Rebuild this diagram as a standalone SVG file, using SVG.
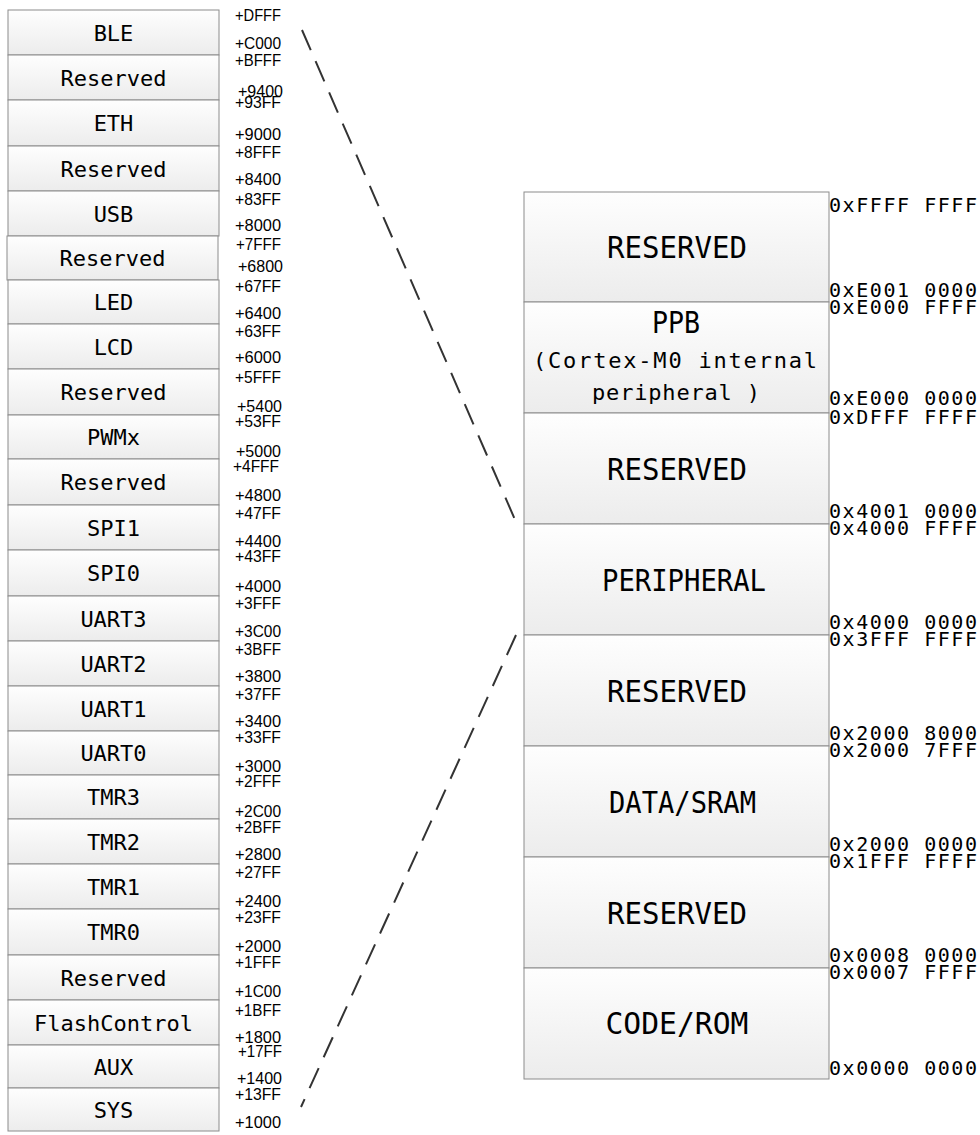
<svg xmlns="http://www.w3.org/2000/svg" width="980" height="1135" viewBox="0 0 980 1135">
<defs>
<linearGradient id="g" x1="0" y1="0" x2="0" y2="1">
<stop offset="0" stop-color="#fefefe"/>
<stop offset="1" stop-color="#ececec"/>
</linearGradient>
<style>
.bx{fill:url(#g);stroke:#8c8c8c;stroke-width:1}
.ll{font-family:"DejaVu Sans Mono",monospace;font-size:22px;fill:#000;text-anchor:middle}
.la{font-family:"Liberation Sans",Arial,sans-serif;font-size:16px;fill:#000}
.rl{font-family:"DejaVu Sans Mono",monospace;font-size:30px;fill:#000;text-anchor:middle}
.rs{font-family:"DejaVu Sans Mono",monospace;font-size:22px;fill:#000;text-anchor:middle}
.ra{font-family:"DejaVu Sans Mono",monospace;font-size:20px;fill:#000}
.dl{fill:none;stroke:#333;stroke-width:2;stroke-dasharray:22 12}
</style>
</defs>
<rect width="980" height="1135" fill="#fff"/>
<g id="left-map">
<g id="n-ble"><rect class="bx" x="8" y="10" width="211" height="45"/><text class="ll" x="113.5" y="40.5">BLE</text></g>
<g id="n-res1"><rect class="bx" x="8" y="55" width="211" height="45"/><text class="ll" x="113.5" y="85.5">Reserved</text></g>
<g id="n-eth"><rect class="bx" x="8" y="100" width="211" height="46"/><text class="ll" x="113.5" y="131">ETH</text></g>
<g id="n-res2"><rect class="bx" x="8" y="146" width="211" height="45"/><text class="ll" x="113.5" y="176.5">Reserved</text></g>
<g id="n-usb"><rect class="bx" x="8" y="191" width="211" height="45"/><text class="ll" x="113.5" y="221.5">USB</text></g>
<g id="n-res3"><rect class="bx" x="7" y="236" width="211" height="44"/><text class="ll" x="112.5" y="266">Reserved</text></g>
<g id="n-led"><rect class="bx" x="8" y="280" width="211" height="44"/><text class="ll" x="113.5" y="310">LED</text></g>
<g id="n-lcd"><rect class="bx" x="8" y="324" width="211" height="45"/><text class="ll" x="113.5" y="354.5">LCD</text></g>
<g id="n-res4"><rect class="bx" x="8" y="369" width="211" height="46"/><text class="ll" x="113.5" y="400">Reserved</text></g>
<g id="n-pwm"><rect class="bx" x="8" y="415" width="211" height="44"/><text class="ll" x="113.5" y="445">PWMx</text></g>
<g id="n-res5"><rect class="bx" x="8" y="459" width="211" height="46"/><text class="ll" x="113.5" y="490">Reserved</text></g>
<g id="n-spi1"><rect class="bx" x="8" y="505" width="211" height="45"/><text class="ll" x="113.5" y="535.5">SPI1</text></g>
<g id="n-spi0"><rect class="bx" x="8" y="550" width="211" height="46"/><text class="ll" x="113.5" y="581">SPI0</text></g>
<g id="n-uart3"><rect class="bx" x="8" y="596" width="211" height="45"/><text class="ll" x="113.5" y="626.5">UART3</text></g>
<g id="n-uart2"><rect class="bx" x="8" y="641" width="211" height="45"/><text class="ll" x="113.5" y="671.5">UART2</text></g>
<g id="n-uart1"><rect class="bx" x="8" y="686" width="211" height="45"/><text class="ll" x="113.5" y="716.5">UART1</text></g>
<g id="n-uart0"><rect class="bx" x="8" y="731" width="211" height="44"/><text class="ll" x="113.5" y="761">UART0</text></g>
<g id="n-tmr3"><rect class="bx" x="8" y="775" width="211" height="44"/><text class="ll" x="113.5" y="805">TMR3</text></g>
<g id="n-tmr2"><rect class="bx" x="8" y="819" width="211" height="45"/><text class="ll" x="113.5" y="849.5">TMR2</text></g>
<g id="n-tmr1"><rect class="bx" x="8" y="864" width="211" height="45"/><text class="ll" x="113.5" y="894.5">TMR1</text></g>
<g id="n-tmr0"><rect class="bx" x="8" y="909" width="211" height="46"/><text class="ll" x="113.5" y="940">TMR0</text></g>
<g id="n-res6"><rect class="bx" x="8" y="955" width="211" height="45"/><text class="ll" x="113.5" y="985.5">Reserved</text></g>
<g id="n-flash"><rect class="bx" x="8" y="1000" width="211" height="45"/><text class="ll" x="113.5" y="1030.5">FlashControl</text></g>
<g id="n-aux"><rect class="bx" x="8" y="1045" width="211" height="43"/><text class="ll" x="113.5" y="1074.5">AUX</text></g>
<g id="n-sys"><rect class="bx" x="8" y="1088" width="211" height="43"/><text class="ll" x="113.5" y="1117.5">SYS</text></g>
</g>
<g id="left-addr">
<text class="la" x="235" y="21" textLength="46" lengthAdjust="spacingAndGlyphs">+DFFF</text>
<text class="la" x="235" y="49" textLength="46" lengthAdjust="spacingAndGlyphs">+C000</text>
<text class="la" x="235" y="66" textLength="46" lengthAdjust="spacingAndGlyphs">+BFFF</text>
<text class="la" x="238" y="97" textLength="45" lengthAdjust="spacingAndGlyphs">+9400</text>
<text class="la" x="235" y="108" textLength="46" lengthAdjust="spacingAndGlyphs">+93FF</text>
<text class="la" x="235" y="140" textLength="46" lengthAdjust="spacingAndGlyphs">+9000</text>
<text class="la" x="235" y="158" textLength="46" lengthAdjust="spacingAndGlyphs">+8FFF</text>
<text class="la" x="235" y="185" textLength="46" lengthAdjust="spacingAndGlyphs">+8400</text>
<text class="la" x="235" y="205" textLength="46" lengthAdjust="spacingAndGlyphs">+83FF</text>
<text class="la" x="235" y="231" textLength="46" lengthAdjust="spacingAndGlyphs">+8000</text>
<text class="la" x="236" y="250" textLength="45" lengthAdjust="spacingAndGlyphs">+7FFF</text>
<text class="la" x="238" y="272" textLength="45" lengthAdjust="spacingAndGlyphs">+6800</text>
<text class="la" x="235" y="292" textLength="46" lengthAdjust="spacingAndGlyphs">+67FF</text>
<text class="la" x="235" y="319" textLength="46" lengthAdjust="spacingAndGlyphs">+6400</text>
<text class="la" x="235" y="337" textLength="46" lengthAdjust="spacingAndGlyphs">+63FF</text>
<text class="la" x="235" y="363" textLength="46" lengthAdjust="spacingAndGlyphs">+6000</text>
<text class="la" x="235" y="383" textLength="46" lengthAdjust="spacingAndGlyphs">+5FFF</text>
<text class="la" x="237" y="412" textLength="45" lengthAdjust="spacingAndGlyphs">+5400</text>
<text class="la" x="235" y="427" textLength="46" lengthAdjust="spacingAndGlyphs">+53FF</text>
<text class="la" x="236" y="457" textLength="45" lengthAdjust="spacingAndGlyphs">+5000</text>
<text class="la" x="233" y="472" textLength="46" lengthAdjust="spacingAndGlyphs">+4FFF</text>
<text class="la" x="235" y="501" textLength="46" lengthAdjust="spacingAndGlyphs">+4800</text>
<text class="la" x="235" y="519" textLength="46" lengthAdjust="spacingAndGlyphs">+47FF</text>
<text class="la" x="235" y="547" textLength="46" lengthAdjust="spacingAndGlyphs">+4400</text>
<text class="la" x="235" y="562" textLength="46" lengthAdjust="spacingAndGlyphs">+43FF</text>
<text class="la" x="235" y="592" textLength="46" lengthAdjust="spacingAndGlyphs">+4000</text>
<text class="la" x="235" y="609" textLength="46" lengthAdjust="spacingAndGlyphs">+3FFF</text>
<text class="la" x="235" y="637" textLength="46" lengthAdjust="spacingAndGlyphs">+3C00</text>
<text class="la" x="235" y="655" textLength="46" lengthAdjust="spacingAndGlyphs">+3BFF</text>
<text class="la" x="235" y="682" textLength="46" lengthAdjust="spacingAndGlyphs">+3800</text>
<text class="la" x="235" y="700" textLength="46" lengthAdjust="spacingAndGlyphs">+37FF</text>
<text class="la" x="235" y="727" textLength="46" lengthAdjust="spacingAndGlyphs">+3400</text>
<text class="la" x="235" y="743" textLength="46" lengthAdjust="spacingAndGlyphs">+33FF</text>
<text class="la" x="235" y="772" textLength="46" lengthAdjust="spacingAndGlyphs">+3000</text>
<text class="la" x="235" y="787" textLength="46" lengthAdjust="spacingAndGlyphs">+2FFF</text>
<text class="la" x="235" y="817" textLength="46" lengthAdjust="spacingAndGlyphs">+2C00</text>
<text class="la" x="235" y="833" textLength="46" lengthAdjust="spacingAndGlyphs">+2BFF</text>
<text class="la" x="235" y="860" textLength="46" lengthAdjust="spacingAndGlyphs">+2800</text>
<text class="la" x="235" y="878" textLength="46" lengthAdjust="spacingAndGlyphs">+27FF</text>
<text class="la" x="235" y="907" textLength="46" lengthAdjust="spacingAndGlyphs">+2400</text>
<text class="la" x="235" y="923" textLength="46" lengthAdjust="spacingAndGlyphs">+23FF</text>
<text class="la" x="235" y="952" textLength="46" lengthAdjust="spacingAndGlyphs">+2000</text>
<text class="la" x="235" y="968" textLength="46" lengthAdjust="spacingAndGlyphs">+1FFF</text>
<text class="la" x="235" y="997" textLength="46" lengthAdjust="spacingAndGlyphs">+1C00</text>
<text class="la" x="235" y="1016" textLength="46" lengthAdjust="spacingAndGlyphs">+1BFF</text>
<text class="la" x="235" y="1043" textLength="46" lengthAdjust="spacingAndGlyphs">+1800</text>
<text class="la" x="238" y="1057" textLength="44" lengthAdjust="spacingAndGlyphs">+17FF</text>
<text class="la" x="237" y="1084" textLength="45" lengthAdjust="spacingAndGlyphs">+1400</text>
<text class="la" x="235" y="1100" textLength="46" lengthAdjust="spacingAndGlyphs">+13FF</text>
<text class="la" x="235" y="1128" textLength="46" lengthAdjust="spacingAndGlyphs">+1000</text>
</g>
<g id="right-map">
<g id="r-res-top"><rect class="bx" x="524" y="192" width="305" height="110"/><text class="rl" x="677" y="258" textLength="140" lengthAdjust="spacingAndGlyphs">RESERVED</text></g>
<g id="r-ppb"><rect class="bx" x="524" y="302" width="305" height="111"/><text class="rl" x="676" y="333" textLength="48" lengthAdjust="spacingAndGlyphs">PPB</text><text class="rs" x="675" y="368" textLength="284" lengthAdjust="spacing">(Cortex-M0 internal</text><text class="rs" x="676" y="400" textLength="168" lengthAdjust="spacing">peripheral )</text></g>
<g id="r-res-2"><rect class="bx" x="524" y="413" width="305" height="111"/><text class="rl" x="677" y="479.5" textLength="140" lengthAdjust="spacingAndGlyphs">RESERVED</text></g>
<g id="r-periph"><rect class="bx" x="524" y="524" width="305" height="111"/><text class="rl" x="684" y="590.5" textLength="164" lengthAdjust="spacingAndGlyphs">PERIPHERAL</text></g>
<g id="r-res-3"><rect class="bx" x="524" y="635" width="305" height="111"/><text class="rl" x="677" y="701.5" textLength="140" lengthAdjust="spacingAndGlyphs">RESERVED</text></g>
<g id="r-sram"><rect class="bx" x="524" y="746" width="305" height="111"/><text class="rl" x="682.5" y="812.5" textLength="147" lengthAdjust="spacingAndGlyphs">DATA/SRAM</text></g>
<g id="r-res-4"><rect class="bx" x="524" y="857" width="305" height="111"/><text class="rl" x="677" y="923.5" textLength="140" lengthAdjust="spacingAndGlyphs">RESERVED</text></g>
<g id="r-code"><rect class="bx" x="524" y="968" width="305" height="111"/><text class="rl" x="677" y="1034" textLength="143" lengthAdjust="spacingAndGlyphs">CODE/ROM</text></g>
</g>
<g id="right-addr">
<text class="ra" x="829" y="212" textLength="148" lengthAdjust="spacing">0xFFFF FFFF</text>
<text class="ra" x="829" y="297" textLength="148" lengthAdjust="spacing">0xE001 0000</text>
<text class="ra" x="829" y="314" textLength="148" lengthAdjust="spacing">0xE000 FFFF</text>
<text class="ra" x="829" y="405" textLength="148" lengthAdjust="spacing">0xE000 0000</text>
<text class="ra" x="829" y="424" textLength="148" lengthAdjust="spacing">0xDFFF FFFF</text>
<text class="ra" x="829" y="518" textLength="148" lengthAdjust="spacing">0x4001 0000</text>
<text class="ra" x="829" y="535" textLength="148" lengthAdjust="spacing">0x4000 FFFF</text>
<text class="ra" x="829" y="629" textLength="148" lengthAdjust="spacing">0x4000 0000</text>
<text class="ra" x="829" y="646" textLength="148" lengthAdjust="spacing">0x3FFF FFFF</text>
<text class="ra" x="829" y="740" textLength="148" lengthAdjust="spacing">0x2000 8000</text>
<text class="ra" x="829" y="757" textLength="148" lengthAdjust="spacing">0x2000 7FFF</text>
<text class="ra" x="829" y="851" textLength="148" lengthAdjust="spacing">0x2000 0000</text>
<text class="ra" x="829" y="868" textLength="148" lengthAdjust="spacing">0x1FFF FFFF</text>
<text class="ra" x="829" y="962" textLength="148" lengthAdjust="spacing">0x0008 0000</text>
<text class="ra" x="829" y="979" textLength="148" lengthAdjust="spacing">0x0007 FFFF</text>
<text class="ra" x="829" y="1075" textLength="148" lengthAdjust="spacing">0x0000 0000</text>
</g>
<g id="connectors">
<line class="dl" x1="302" y1="30" x2="516" y2="522"/>
<line class="dl" x1="516" y1="635" x2="301" y2="1107"/>
</g>
</svg>
